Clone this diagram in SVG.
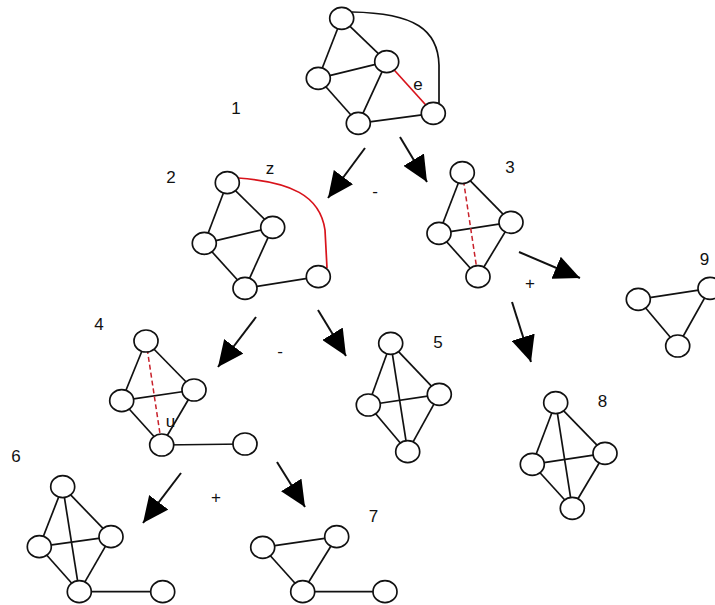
<svg xmlns="http://www.w3.org/2000/svg" width="715" height="605" viewBox="0 0 715 605">
<style>
.e{stroke:#111;stroke-width:1.7;fill:none}
.r{stroke:#d8131b;stroke-width:1.7;fill:none}
.d{stroke:#c8202a;stroke-width:1.5;fill:none;stroke-dasharray:5 3}
.n{fill:#fff;stroke:#111;stroke-width:1.7}
.a{stroke:#111;stroke-width:2;fill:none;marker-end:url(#ah)}
text{font-family:"Liberation Sans",Arial,sans-serif;font-size:17px;fill:#111}
</style>
<defs>
<marker id="ah" markerUnits="userSpaceOnUse" viewBox="0 0 26 24" markerWidth="26" markerHeight="24" refX="26" refY="12" orient="auto">
<path d="M0,0 L26,12 L0,24 z" fill="#000"/>
</marker>
</defs>
<rect width="715" height="605" fill="#fff"/>

<g id="connectors">
<path class="a" d="M365,148 L328,198"/>
<path class="a" d="M400,137 L427,182"/>
<path class="a" d="M519,252 L580,278"/>
<path class="a" d="M512,302 L531,362"/>
<path class="a" d="M256,317 L218,367"/>
<path class="a" d="M318,310 L346,356"/>
<path class="a" d="M181,473 L143,523"/>
<path class="a" d="M277,462 L305,507"/>
<text x="375" y="197" text-anchor="middle">-</text>
<text x="280" y="357" text-anchor="middle">-</text>
<text x="530" y="289" text-anchor="middle">+</text>
<text x="216" y="503" text-anchor="middle">+</text>
</g>

<g id="node1">
<path class="e" d="M352,12 C415,13 438,30 439,65 L439,103"/>
<line class="e" x1="341.7" y1="18.3" x2="318.3" y2="78.3"/>
<line class="e" x1="341.7" y1="18.3" x2="386.7" y2="61.7"/>
<line class="e" x1="318.3" y1="78.3" x2="386.7" y2="61.7"/>
<line class="e" x1="318.3" y1="78.3" x2="358.3" y2="123.3"/>
<line class="e" x1="386.7" y1="61.7" x2="358.3" y2="123.3"/>
<line class="e" x1="358.3" y1="123.3" x2="433.3" y2="113.3"/>
<line class="r" x1="386.7" y1="61.7" x2="433.3" y2="113.3"/>
<ellipse class="n" cx="341.7" cy="18.3" rx="12" ry="11"/>
<ellipse class="n" cx="386.7" cy="61.7" rx="12" ry="11"/>
<ellipse class="n" cx="318.3" cy="78.3" rx="12" ry="11"/>
<ellipse class="n" cx="358.3" cy="123.3" rx="12" ry="11"/>
<ellipse class="n" cx="433.3" cy="113.3" rx="12" ry="11"/>
<text x="418" y="90" text-anchor="middle">e</text>
<text x="236" y="114" text-anchor="middle">1</text>
</g>

<g id="node2">
<path class="r" d="M238,178 C290,182 320,195 325,230 L327,268"/>
<line class="e" x1="227.3" y1="182.7" x2="204.3" y2="243.3"/>
<line class="e" x1="227.3" y1="182.7" x2="272.7" y2="227.3"/>
<line class="e" x1="204.3" y1="243.3" x2="272.7" y2="227.3"/>
<line class="e" x1="204.3" y1="243.3" x2="245" y2="288.3"/>
<line class="e" x1="272.7" y1="227.3" x2="245" y2="288.3"/>
<line class="e" x1="245" y1="288.3" x2="318.3" y2="276.7"/>
<ellipse class="n" cx="227.3" cy="182.7" rx="12" ry="11"/>
<ellipse class="n" cx="272.7" cy="227.3" rx="12" ry="11"/>
<ellipse class="n" cx="204.3" cy="243.3" rx="12" ry="11"/>
<ellipse class="n" cx="245" cy="288.3" rx="12" ry="11"/>
<ellipse class="n" cx="318.3" cy="276.7" rx="12" ry="11"/>
<text x="270" y="174" text-anchor="middle">z</text>
<text x="171" y="183" text-anchor="middle">2</text>
</g>

<g id="node3">
<line class="e" x1="462.3" y1="172.7" x2="439" y2="233.3"/>
<line class="e" x1="462.3" y1="172.7" x2="511" y2="222.3"/>
<line class="e" x1="439" y1="233.3" x2="511" y2="222.3"/>
<line class="e" x1="439" y1="233.3" x2="478" y2="276.7"/>
<line class="e" x1="511" y1="222.3" x2="478" y2="276.7"/>
<line class="d" x1="462.3" y1="172.7" x2="478" y2="276.7"/>
<ellipse class="n" cx="462.3" cy="172.7" rx="12" ry="11"/>
<ellipse class="n" cx="511" cy="222.3" rx="12" ry="11"/>
<ellipse class="n" cx="439" cy="233.3" rx="12" ry="11"/>
<ellipse class="n" cx="478" cy="276.7" rx="12" ry="11"/>
<text x="510" y="173" text-anchor="middle">3</text>
</g>

<g id="node9">
<line class="e" x1="638.3" y1="299.3" x2="710" y2="288.3"/>
<line class="e" x1="638.3" y1="299.3" x2="677.7" y2="346"/>
<line class="e" x1="677.7" y1="346" x2="710" y2="288.3"/>
<ellipse class="n" cx="638.3" cy="299.3" rx="12" ry="11"/>
<ellipse class="n" cx="710" cy="288.3" rx="12" ry="11"/>
<ellipse class="n" cx="677.7" cy="346" rx="12" ry="11"/>
<text x="704.5" y="265" text-anchor="middle">9</text>
</g>

<g id="node4">
<line class="e" x1="146" y1="341" x2="121.7" y2="400.7"/>
<line class="e" x1="146" y1="341" x2="194" y2="390"/>
<line class="e" x1="121.7" y1="400.7" x2="194" y2="390"/>
<line class="e" x1="121.7" y1="400.7" x2="161.7" y2="445"/>
<line class="e" x1="194" y1="390" x2="161.7" y2="445"/>
<line class="e" x1="161.7" y1="445" x2="245" y2="444"/>
<line class="d" x1="146" y1="341" x2="161.7" y2="445"/>
<ellipse class="n" cx="146" cy="341" rx="12" ry="11"/>
<ellipse class="n" cx="194" cy="390" rx="12" ry="11"/>
<ellipse class="n" cx="121.7" cy="400.7" rx="12" ry="11"/>
<ellipse class="n" cx="161.7" cy="445" rx="12" ry="11"/>
<ellipse class="n" cx="245" cy="444" rx="12" ry="11"/>
<text x="170.5" y="427" text-anchor="middle">u</text>
<text x="99" y="330" text-anchor="middle">4</text>
</g>

<g id="node5">
<line class="e" x1="390.7" y1="343.3" x2="368.3" y2="405"/>
<line class="e" x1="390.7" y1="343.3" x2="439.3" y2="394.3"/>
<line class="e" x1="390.7" y1="343.3" x2="407.7" y2="451.7"/>
<line class="e" x1="368.3" y1="405" x2="439.3" y2="394.3"/>
<line class="e" x1="368.3" y1="405" x2="407.7" y2="451.7"/>
<line class="e" x1="439.3" y1="394.3" x2="407.7" y2="451.7"/>
<ellipse class="n" cx="390.7" cy="343.3" rx="12" ry="11"/>
<ellipse class="n" cx="439.3" cy="394.3" rx="12" ry="11"/>
<ellipse class="n" cx="368.3" cy="405" rx="12" ry="11"/>
<ellipse class="n" cx="407.7" cy="451.7" rx="12" ry="11"/>
<text x="438" y="348" text-anchor="middle">5</text>
</g>

<g id="node8">
<line class="e" x1="555.7" y1="402.7" x2="532.3" y2="464.3"/>
<line class="e" x1="555.7" y1="402.7" x2="605" y2="453.3"/>
<line class="e" x1="555.7" y1="402.7" x2="572.3" y2="508.3"/>
<line class="e" x1="532.3" y1="464.3" x2="605" y2="453.3"/>
<line class="e" x1="532.3" y1="464.3" x2="572.3" y2="508.3"/>
<line class="e" x1="605" y1="453.3" x2="572.3" y2="508.3"/>
<ellipse class="n" cx="555.7" cy="402.7" rx="12" ry="11"/>
<ellipse class="n" cx="605" cy="453.3" rx="12" ry="11"/>
<ellipse class="n" cx="532.3" cy="464.3" rx="12" ry="11"/>
<ellipse class="n" cx="572.3" cy="508.3" rx="12" ry="11"/>
<text x="602.5" y="407" text-anchor="middle">8</text>
</g>

<g id="node6">
<line class="e" x1="62.7" y1="486.7" x2="39.3" y2="546.7"/>
<line class="e" x1="62.7" y1="486.7" x2="111" y2="536.7"/>
<line class="e" x1="62.7" y1="486.7" x2="79.3" y2="591.7"/>
<line class="e" x1="39.3" y1="546.7" x2="111" y2="536.7"/>
<line class="e" x1="39.3" y1="546.7" x2="79.3" y2="591.7"/>
<line class="e" x1="111" y1="536.7" x2="79.3" y2="591.7"/>
<line class="e" x1="79.3" y1="591.7" x2="162.7" y2="591.7"/>
<ellipse class="n" cx="62.7" cy="486.7" rx="12" ry="11"/>
<ellipse class="n" cx="111" cy="536.7" rx="12" ry="11"/>
<ellipse class="n" cx="39.3" cy="546.7" rx="12" ry="11"/>
<ellipse class="n" cx="79.3" cy="591.7" rx="12" ry="11"/>
<ellipse class="n" cx="162.7" cy="591.7" rx="12" ry="11"/>
<text x="16" y="462" text-anchor="middle">6</text>
</g>

<g id="node7">
<line class="e" x1="262.7" y1="547.3" x2="336.7" y2="536.7"/>
<line class="e" x1="262.7" y1="547.3" x2="302.7" y2="591.7"/>
<line class="e" x1="336.7" y1="536.7" x2="302.7" y2="591.7"/>
<line class="e" x1="302.7" y1="591.7" x2="385" y2="591.7"/>
<ellipse class="n" cx="262.7" cy="547.3" rx="12" ry="11"/>
<ellipse class="n" cx="336.7" cy="536.7" rx="12" ry="11"/>
<ellipse class="n" cx="302.7" cy="591.7" rx="12" ry="11"/>
<ellipse class="n" cx="385" cy="591.7" rx="12" ry="11"/>
<text x="373.5" y="522" text-anchor="middle">7</text>
</g>
</svg>
